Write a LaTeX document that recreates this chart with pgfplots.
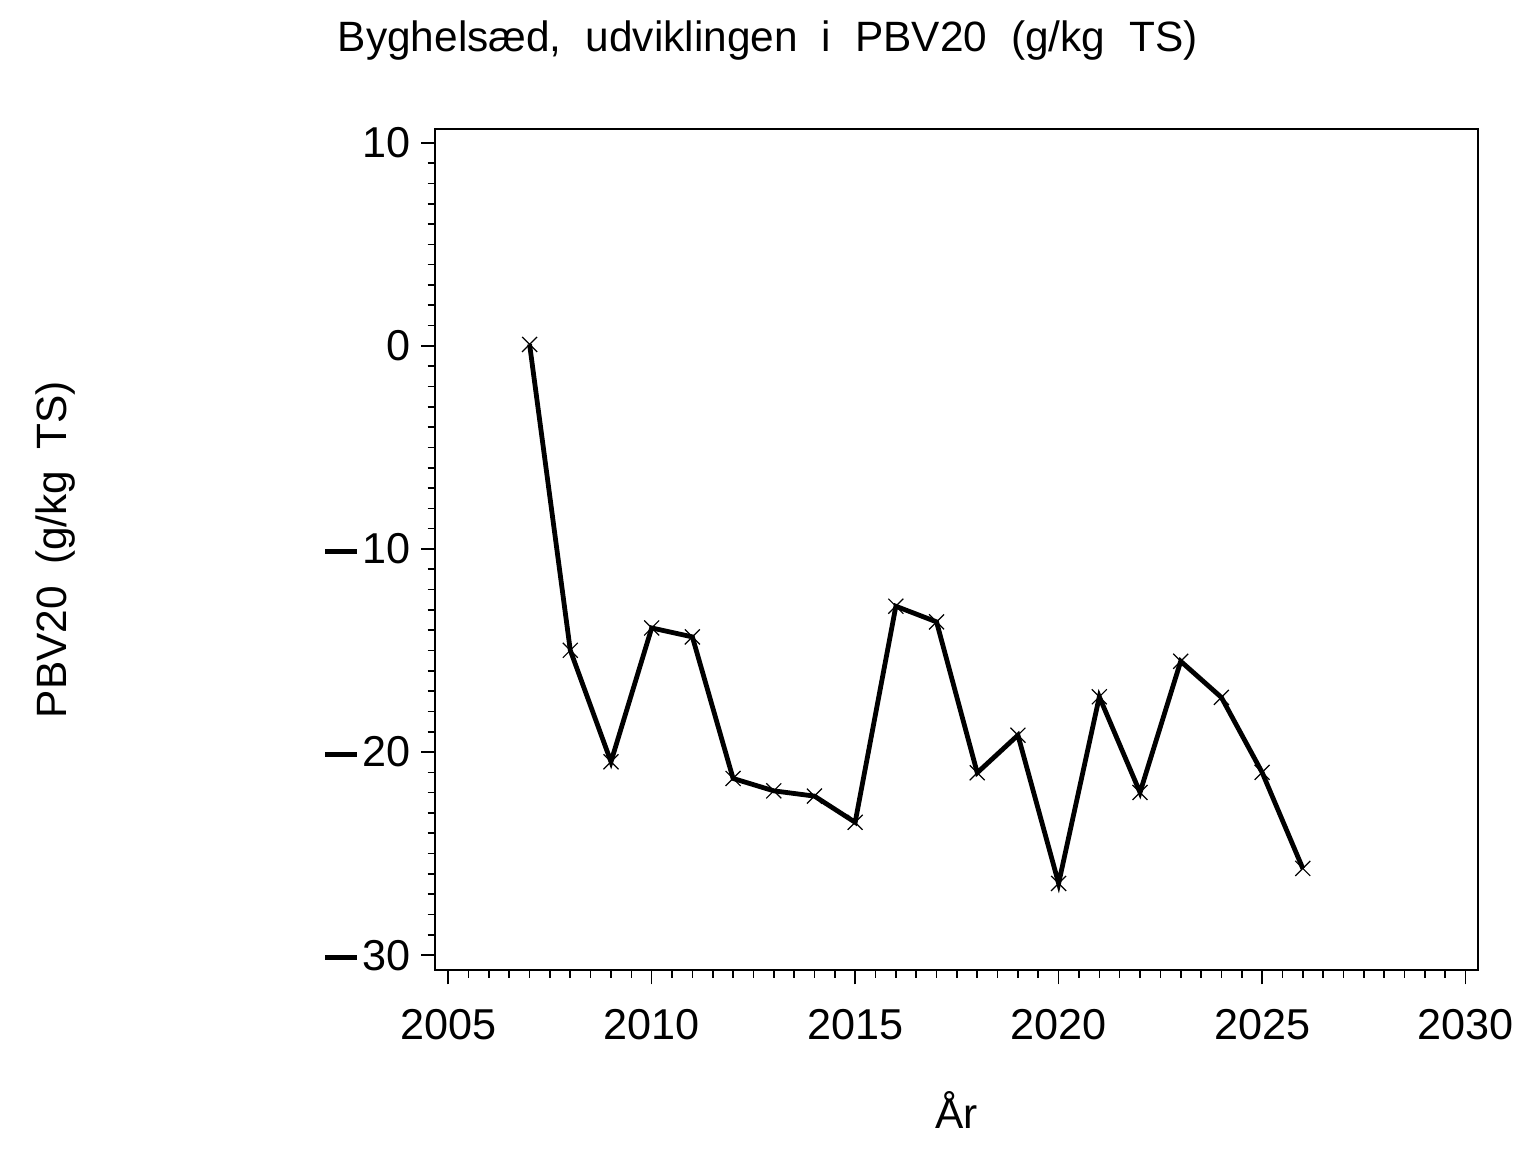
\documentclass[border=0pt]{standalone}
\usepackage{pgfplots}
\pgfplotsset{compat=1.18}
\usepackage{fontspec}
\setmainfont{Liberation Sans}
\newcommand\mns{\rule[2.5pt]{8pt}{1.25pt}\hspace{1.2pt}}
\begin{document}
\begin{tikzpicture}
\useasboundingbox (0,0) rectangle (384pt,288pt);
\begin{axis}[
  at={(108.8pt,45.4pt)}, anchor=south west,
  scale only axis, width=260.75pt, height=210.4pt,
  xmin=2004.68, xmax=2030.31, ymin=-30.75, ymax=10.69,
  xtick={2005,2010,2015,2020,2025,2030},
  xticklabels={2005,2010,2015,2020,2025,2030},
  ytick={-30,-20,-10,0,10},
  yticklabels={\mns30,\mns20,\mns10,0,10},
  minor x tick num=9, minor y tick num=9,
  tick align=outside, xtick pos=bottom, ytick pos=left,
  major tick length=3.5pt, minor tick length=1.9pt,
  every tick/.style={black, line width=0.4pt},
  axis line style={line width=0.5pt},
  ticklabel style={font=\fontsize{10.8}{12}\selectfont},
  xticklabel style={anchor=north, yshift=-2.75pt},
  yticklabel style={anchor=east, xshift=0.75pt},
  every axis title shift=0pt,
  title={\spaceskip=6pt Byghelsæd, udviklingen i PBV20 (g/kg TS)},
  title style={at={(axis description cs:0.319,1.105)}, anchor=center, font=\fontsize{10.6}{12}\selectfont},
  xlabel={År},
  xlabel style={at={(axis description cs:0.5,-0.166)}, anchor=center, font=\fontsize{10.6}{12}\selectfont},
  ylabel={\spaceskip=5.3pt PBV20 (g/kg TS)},
  ylabel style={at={(axis description cs:-0.364,0.5)}, anchor=center, rotate=0, font=\fontsize{10.6}{12}\selectfont},
]
\addplot[black, line width=1.2pt, mark=x, mark size=2.65pt, mark options={line width=0.3pt}] coordinates {
(2007,0.07) (2008,-14.99) (2009,-20.48) (2010,-13.89) (2011,-14.33)
(2012,-21.3) (2013,-21.91) (2014,-22.17) (2015,-23.46) (2016,-12.82)
(2017,-13.59) (2018,-21.02) (2019,-19.17) (2020,-26.47) (2021,-17.28)
(2022,-21.99) (2023,-15.53) (2024,-17.31) (2025,-21.0) (2026,-25.73)
};
\end{axis}
\end{tikzpicture}
\end{document}
